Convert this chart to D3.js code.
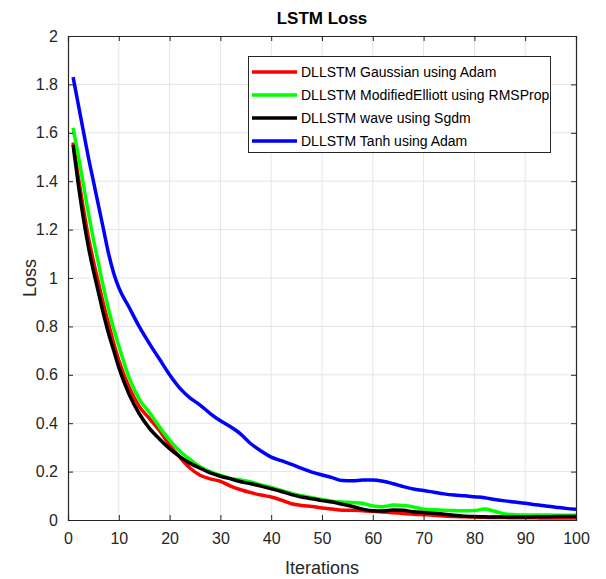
<!DOCTYPE html>
<html><head><meta charset="utf-8">
<script src="https://cdn.jsdelivr.net/npm/d3@7"></script>
<style>body{margin:0;background:#fff}svg{display:block}text{font-family:"Liberation Sans",Arial,sans-serif;fill:#262626}</style>
</head><body><svg id="c" width="606" height="579"></svg>
<script>
const iterations = [1,2,3,4,5,6,7,8,9,10,12,14,16,18,20,22,24,26,28,30,32,34,36,38,40,42,44,46,48,50,52,54,56,58,60,62,64,66,68,70,72,74,76,78,80,82,84,86,88,90,92,94,96,98,100];
const gaussianAdam = [1.56,1.42,1.29,1.17,1.07,0.98,0.89,0.81,0.73,0.66,0.55,0.47,0.42,0.37,0.31,0.26,0.215,0.185,0.170,0.160,0.140,0.125,0.113,0.103,0.095,0.082,0.067,0.060,0.056,0.050,0.045,0.040,0.040,0.038,0.036,0.033,0.030,0.027,0.024,0.022,0.020,0.017,0.014,0.013,0.012,0.011,0.010,0.010,0.009,0.009,0.009,0.008,0.008,0.008,0.008];
const elliottRMSProp = [1.62,1.51,1.39,1.27,1.16,1.06,0.96,0.87,0.79,0.72,0.59,0.50,0.445,0.385,0.33,0.285,0.25,0.22,0.20,0.185,0.172,0.165,0.157,0.145,0.135,0.122,0.110,0.100,0.092,0.085,0.078,0.074,0.072,0.069,0.058,0.055,0.062,0.060,0.054,0.045,0.042,0.040,0.039,0.038,0.039,0.045,0.036,0.025,0.022,0.021,0.021,0.021,0.020,0.020,0.020];
const waveSgdm = [1.55,1.39,1.25,1.13,1.03,0.94,0.85,0.77,0.70,0.63,0.52,0.44,0.38,0.335,0.295,0.262,0.235,0.214,0.195,0.181,0.170,0.158,0.150,0.140,0.129,0.118,0.105,0.095,0.088,0.080,0.074,0.065,0.056,0.045,0.038,0.037,0.041,0.040,0.034,0.031,0.028,0.024,0.020,0.016,0.014,0.013,0.012,0.012,0.012,0.012,0.013,0.013,0.014,0.014,0.014];
const tanhAdam = [1.83,1.72,1.61,1.50,1.40,1.30,1.20,1.10,1.02,0.96,0.88,0.80,0.73,0.665,0.60,0.545,0.505,0.475,0.44,0.41,0.385,0.355,0.315,0.285,0.26,0.245,0.23,0.213,0.198,0.186,0.175,0.163,0.162,0.165,0.165,0.160,0.150,0.138,0.128,0.122,0.115,0.108,0.103,0.100,0.096,0.092,0.085,0.079,0.074,0.069,0.063,0.058,0.053,0.048,0.044];
const seriesNames = ["DLLSTM Gaussian using Adam","DLLSTM ModifiedElliott using RMSProp","DLLSTM wave using Sgdm","DLLSTM Tanh using Adam"];
const seriesColors = ["#ff0000","#00ff00","#000000","#0000ff"];
const xTicks = [0,10,20,30,40,50,60,70,80,90,100];
const yTicks = [0,0.2,0.4,0.6,0.8,1,1.2,1.4,1.6,1.8,2];

const seriesData = [gaussianAdam, elliottRMSProp, waveSgdm, tanhAdam];
const svg = d3.select("#c");
const L=68,R=576,T=36,B=520;
const x = d3.scaleLinear().domain([0,100]).range([L,R]);
const y = d3.scaleLinear().domain([0,2]).range([B,T]);

// grid
svg.append("g").selectAll("line").data(xTicks.slice(1,-1)).join("line")
  .attr("x1",d=>x(d)).attr("x2",d=>x(d)).attr("y1",T).attr("y2",B)
  .attr("stroke","#e5e5e5").attr("stroke-width",1);
svg.append("g").selectAll("line").data(yTicks.slice(1,-1)).join("line")
  .attr("y1",d=>y(d)).attr("y2",d=>y(d)).attr("x1",L).attr("x2",R)
  .attr("stroke","#e5e5e5").attr("stroke-width",1);

// lines
const line = d3.line().x((d,i)=>x(iterations[i])).y(d=>y(d)).curve(d3.curveMonotoneX);
seriesData.forEach((s,k)=>{
  svg.append("path").datum(s).attr("d",line).attr("fill","none")
    .attr("stroke",seriesColors[k]).attr("stroke-width",3.5).attr("stroke-linejoin","round");
});

// axes
const ax = svg.append("g").attr("transform",`translate(0,${B})`).call(d3.axisBottom(x).tickValues(xTicks).tickSize(-5).tickPadding(10).tickFormat(d3.format("d")));
const ay = svg.append("g").attr("transform",`translate(${L},0)`).call(d3.axisLeft(y).tickValues(yTicks).tickSize(-5).tickPadding(10).tickFormat(d=>String(d)));
const axT = svg.append("g").attr("transform",`translate(0,${T})`).call(d3.axisTop(x).tickValues(xTicks).tickSize(-5).tickFormat(""));
const ayR = svg.append("g").attr("transform",`translate(${R},0)`).call(d3.axisRight(y).tickValues(yTicks).tickSize(-5).tickFormat(""));
[ax,ay,axT,ayR].forEach(g=>{
  g.select(".domain").attr("stroke","#262626").attr("stroke-width",1.2);
  g.selectAll(".tick line").attr("stroke","#262626");
  g.selectAll("text").attr("font-size",16).attr("fill","#262626").attr("font-family","Liberation Sans, Arial, sans-serif");
});
ax.selectAll("text").attr("dy","0.9em");

// labels
svg.append("text").attr("x",322).attr("y",24).attr("text-anchor","middle").attr("font-weight","bold").attr("font-size",17).style("fill","#000").text("LSTM Loss");
svg.append("text").attr("x",322).attr("y",574).attr("text-anchor","middle").attr("font-size",18).text("Iterations");
svg.append("text").attr("transform","translate(36,278) rotate(-90)").attr("text-anchor","middle").attr("font-size",18).text("Loss");

// legend
const lg = svg.append("g");
lg.append("rect").attr("x",248.5).attr("y",56.5).attr("width",302).attr("height",96).attr("fill","#fff").attr("stroke","#262626").attr("stroke-width",1);
seriesNames.forEach((n,k)=>{
  const yy = 72+k*23;
  lg.append("line").attr("x1",252).attr("x2",297).attr("y1",yy).attr("y2",yy).attr("stroke",seriesColors[k]).attr("stroke-width",3.5);
  lg.append("text").attr("x",301).attr("y",yy).attr("dy","0.35em").attr("font-size",14).style("fill","#000").text(n);
});
</script></body></html>
